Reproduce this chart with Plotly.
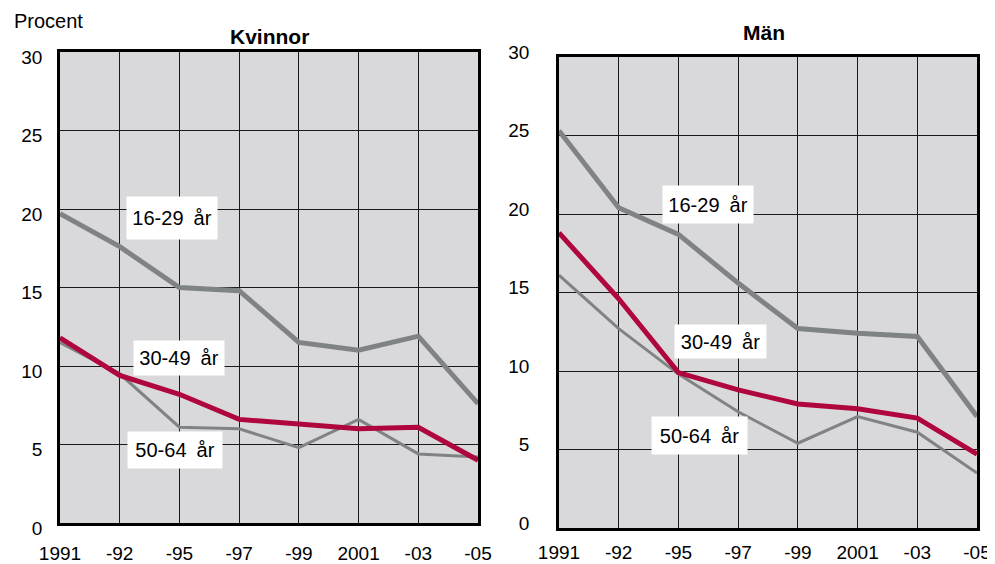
import plotly.graph_objects as go

# Data
years = ["1991", "-92", "-95", "-97", "-99", "2001", "-03", "-05"]

kvinnor_16_29 = [19.7, 17.6, 15.0, 14.8, 11.5, 11.0, 11.9, 7.6]
kvinnor_30_49 = [11.8, 9.4, 8.2, 6.6, 6.3, 6.0, 6.1, 4.0]
kvinnor_50_64 = [11.5, 9.5, 6.1, 6.0, 4.8, 6.6, 4.4, 4.2]

man_16_29 = [25.3, 20.4, 18.7, 15.6, 12.7, 12.4, 12.2, 7.1]
man_30_49 = [18.8, 14.6, 9.9, 8.8, 7.9, 7.6, 7.0, 4.7]
man_50_64 = [16.1, 12.7, 9.8, 7.4, 5.4, 7.1, 6.1, 3.5]

y_ticks = [0, 5, 10, 15, 20, 25, 30]

GRAY = "#808384"
RED = "#b0063e"
FONT = "Liberation Sans, Arial, sans-serif"

# page body has an 8px margin, so the figure is 8px smaller than the window
W, H = 987, 556

xpos = list(range(len(years)))

fig = go.Figure()


def add_panel(fig, xa, ya, s1, s2, s3):
    fig.add_trace(go.Scatter(x=xpos, y=s1, mode="lines", xaxis=xa, yaxis=ya,
                             line=dict(color=GRAY, width=5), showlegend=False))
    fig.add_trace(go.Scatter(x=xpos, y=s3, mode="lines", xaxis=xa, yaxis=ya,
                             line=dict(color=GRAY, width=3), showlegend=False))
    fig.add_trace(go.Scatter(x=xpos, y=s2, mode="lines", xaxis=xa, yaxis=ya,
                             line=dict(color=RED, width=5), showlegend=False))


add_panel(fig, "x", "y", kvinnor_16_29, kvinnor_30_49, kvinnor_50_64)
add_panel(fig, "x2", "y2", man_16_29, man_30_49, man_50_64)

xcommon = dict(range=[0, 7], tickvals=xpos, ticktext=years, showgrid=True,
               gridcolor="#1a1a1a", gridwidth=1, showline=True, linecolor="black",
               linewidth=2.5, mirror=True, zeroline=False, ticks="", automargin=False,
               tickfont=dict(size=19, color="black", family=FONT))
ycommon = dict(range=[0, 30], tickvals=y_ticks, showgrid=True,
               gridcolor="#1a1a1a", gridwidth=1, showline=True, linecolor="black",
               linewidth=2.5, mirror=True, zeroline=False, ticks="", automargin=False,
               tickfont=dict(size=19, color="black", family=FONT))

fig.update_layout(
    width=W, height=H,
    margin=dict(l=0, r=0, t=0, b=0),
    paper_bgcolor="white",
    plot_bgcolor="#d9d9dc",
    font=dict(family=FONT, color="black"),
    xaxis=dict(domain=[52 / W, 470 / W], anchor="y", ticklabelstandoff=11, **xcommon),
    yaxis=dict(domain=[41 / H, 512 / H], anchor="x", ticklabelstandoff=11,
               ticklabelshift=5, **ycommon),
    xaxis2=dict(domain=[551 / W, 969 / W], anchor="y2", ticklabelstandoff=5, **xcommon),
    yaxis2=dict(domain=[36 / H, 507 / H], anchor="x2", ticklabelstandoff=23,
                ticklabelshift=-5, **ycommon),
)

ann = []
# titles
ann.append(dict(text="<b>Kvinnor</b>", x=261 / W, y=1 - 28 / H, xref="paper", yref="paper",
                xanchor="center", yanchor="middle", showarrow=False, font=dict(size=21)))
ann.append(dict(text="<b>Män</b>", x=756 / W, y=1 - 25 / H, xref="paper", yref="paper",
                xanchor="center", yanchor="middle", showarrow=False, font=dict(size=21)))
ann.append(dict(text="Procent", x=4 / W, y=1 - 13 / H, xref="paper", yref="paper",
                xanchor="left", yanchor="middle", showarrow=False, font=dict(size=20)))

# series labels in white boxes
labels = [
    ("x", "y", "16-29\u2002år", 1.88, 19.4, 88, 40),
    ("x", "y", "30-49\u2002år", 1.99, 10.5, 88, 32),
    ("x", "y", "50-64\u2002år", 1.93, 4.65, 92, 34),
    ("x2", "y2", "16-29\u2002år", 2.5, 20.6, 88, 35),
    ("x2", "y2", "30-49\u2002år", 2.7, 11.85, 89, 31),
    ("x2", "y2", "50-64\u2002år", 2.36, 5.9, 93, 35),
]
for xr, yr, t, x, y, w, h in labels:
    ann.append(dict(text=t, x=x, y=y, xref=xr, yref=yr, showarrow=False,
                    bgcolor="white", width=w, height=h, font=dict(size=20)))

fig.update_layout(annotations=ann)

fig.write_html("out.html")
